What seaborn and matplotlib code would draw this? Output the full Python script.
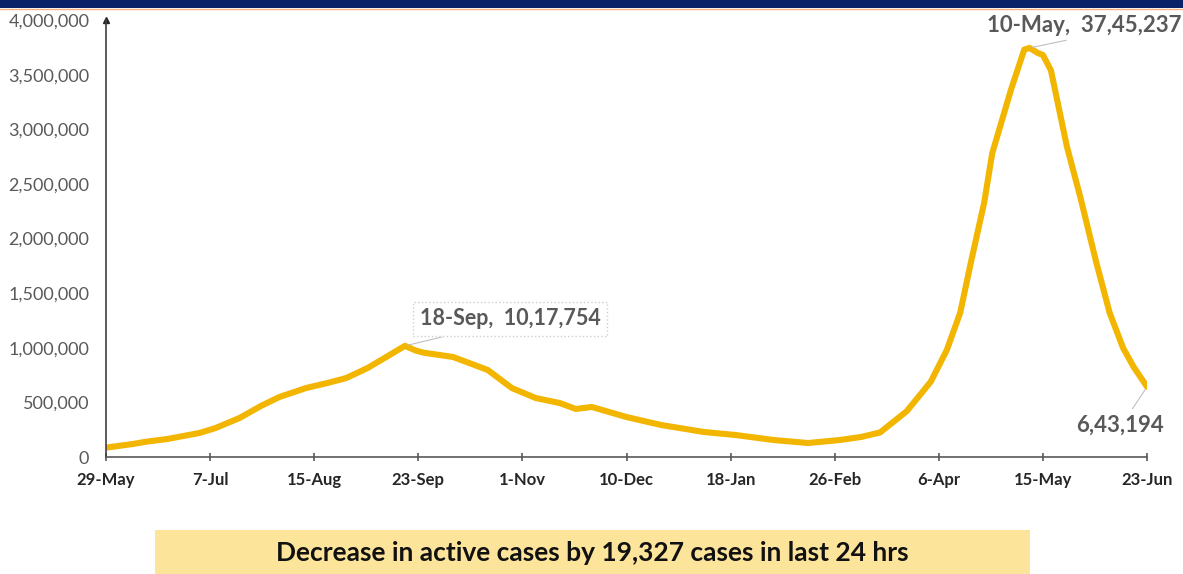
import numpy as np
import pandas as pd
import matplotlib
matplotlib.use("Agg")
import matplotlib.pyplot as plt
from matplotlib.patches import Rectangle
from matplotlib.lines import Line2D
from matplotlib.ticker import FuncFormatter
import seaborn as sns

# active cases (29-May-2020 .. 23-Jun-2021)
dates = ["2020-05-29", "2020-06-08", "2020-06-13", "2020-06-21", "2020-07-03",
         "2020-07-09", "2020-07-18", "2020-07-26", "2020-08-02", "2020-08-12",
         "2020-08-20", "2020-08-27", "2020-09-04", "2020-09-11", "2020-09-16",
         "2020-09-18", "2020-09-22", "2020-09-25", "2020-10-06", "2020-10-19",
         "2020-10-28", "2020-11-06", "2020-11-15", "2020-11-21", "2020-11-27",
         "2020-12-10", "2020-12-23", "2021-01-08", "2021-01-20", "2021-02-03",
         "2021-02-16", "2021-02-28", "2021-03-08", "2021-03-15", "2021-03-25",
         "2021-04-03", "2021-04-09", "2021-04-14", "2021-04-18", "2021-04-23",
         "2021-04-26", "2021-05-03", "2021-05-08", "2021-05-10", "2021-05-13",
         "2021-05-15", "2021-05-18", "2021-05-24", "2021-05-29", "2021-06-04",
         "2021-06-09", "2021-06-14", "2021-06-18", "2021-06-23"]
active = [86000, 119000, 140000, 165000, 220000,
          265000, 357000, 467000, 550000, 632000,
          678000, 723000, 815000, 916000, 989000,
          1017754, 975000, 955000, 916000, 797000,
          632000, 540000, 494000, 440000, 458000,
          366000, 293000, 229000, 201000, 156000,
          128000, 156000, 184000, 225000, 420000,
          690000, 980000, 1320000, 1780000, 2330000,
          2780000, 3360000, 3730000, 3745237, 3700000,
          3680000, 3540000, 2840000, 2380000, 1780000,
          1320000, 1000000, 824000, 643194]

tick_dates = ["2020-05-29", "2020-07-07", "2020-08-15", "2020-09-23", "2020-11-01",
              "2020-12-10", "2021-01-18", "2021-02-26", "2021-04-06", "2021-05-15",
              "2021-06-23"]
tick_labels = ["29-May", "7-Jul", "15-Aug", "23-Sep", "1-Nov", "10-Dec",
               "18-Jan", "26-Feb", "6-Apr", "15-May", "23-Jun"]
y_ticks = [0, 500000, 1000000, 1500000, 2000000, 2500000, 3000000, 3500000, 4000000]

callout_dates = ["2020-09-18", "2021-05-10", "2021-06-23"]
callout_texts = ["18-Sep,  10,17,754", "10-May,  37,45,237", "6,43,194"]
banner_text = "Decrease in active cases by 19,327 cases in last 24 hrs"

sns.set_theme(style="white")
plt.rcParams["font.family"] = ["Lato", "DejaVu Sans"]

df = pd.DataFrame({"date": pd.to_datetime(dates), "active": active})

fig = plt.figure(figsize=(11.83, 5.74), dpi=100)
ax = fig.add_axes([0.0896, 0.2038, 0.8800, 0.7612])

sns.lineplot(data=df, x="date", y="active", color="#F2B600", linewidth=4.4,
             ax=ax, legend=False)

ax.set_xlim(pd.Timestamp(tick_dates[0]), pd.Timestamp(tick_dates[-1]))
ax.set_ylim(0, 4000000)
ax.set_xticks(pd.to_datetime(tick_dates))
ax.set_xticklabels(tick_labels, fontsize=12, fontweight="bold", color="#262626")
ax.set_yticks(y_ticks)
ax.yaxis.set_major_formatter(FuncFormatter(lambda v, p: f"{int(v):,}"))
ax.tick_params(axis="y", labelsize=13, labelcolor="#595959", length=0, pad=12)
ax.tick_params(axis="x", direction="inout", length=6, width=1.2, color="#595959",
               bottom=True, pad=8)
ax.set_xlabel("")
ax.set_ylabel("")

for s in ["top", "right"]:
    ax.spines[s].set_visible(False)
ax.spines["left"].set_color("#404040")
ax.spines["left"].set_linewidth(1.2)
ax.spines["bottom"].set_color("#595959")
ax.spines["bottom"].set_linewidth(1.2)
# arrow head on the y axis
ax.plot(0, 1, marker="^", color="#262626", markersize=4, transform=ax.transAxes,
        clip_on=False)

# callouts
lead = dict(arrowstyle="-", color="#BFBFBF", lw=0.8)
d0 = df.set_index("date")["active"]
p = pd.Timestamp(callout_dates[0])
ax.annotate(callout_texts[0], xy=(p, d0[p]), xytext=(105, 27), textcoords="offset pixels",
            ha="center", va="center", fontsize=15.5, fontweight="bold", color="#595959",
            bbox=dict(boxstyle="square,pad=0.3", fc="white", ec="#D0D0D0", ls=":"),
            arrowprops=dict(lead, relpos=(0.3, 0.0)))
p = pd.Timestamp(callout_dates[1])
ax.annotate(callout_texts[1], xy=(p, d0[p]), xytext=(55, 22), textcoords="offset pixels",
            ha="center", va="center", fontsize=16, fontweight="bold", color="#595959",
            annotation_clip=False, arrowprops=dict(lead, relpos=(0.5, 0.0)))
p = pd.Timestamp(callout_dates[2])
ax.annotate(callout_texts[2], xy=(p, d0[p]), xytext=(-27, -38), textcoords="offset pixels",
            ha="center", va="center", fontsize=16, fontweight="bold", color="#595959",
            annotation_clip=False, arrowprops=dict(lead, relpos=(0.6, 1.0)))

# header strip
fig.patches.append(Rectangle((0, 0.986), 1, 0.014, transform=fig.transFigure,
                             facecolor="#0A2268", edgecolor="none"))
fig.lines.append(Line2D([0, 1], [0.9845, 0.9845], transform=fig.transFigure,
                        color="#F4B183", linewidth=1))

# bottom banner
fig.patches.append(Rectangle((0.131, 0.0), 0.740, 0.0767, transform=fig.transFigure,
                             facecolor="#FCE49B", edgecolor="none"))
fig.text(0.501, 0.036, banner_text, ha="center", va="center", fontsize=19,
         fontweight="bold", color="#111111")

fig.savefig("out.png", dpi=100)
